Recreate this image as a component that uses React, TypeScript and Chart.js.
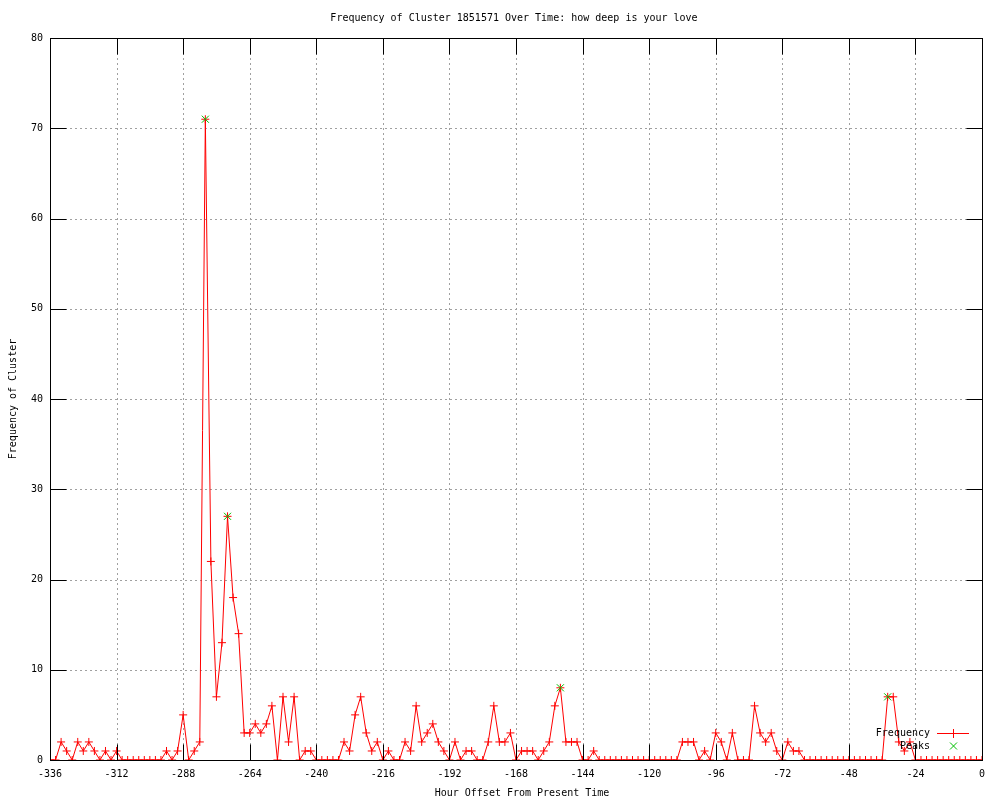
import React, { useEffect, useRef } from "react";
import { Chart, registerables } from "chart.js";

Chart.register(...registerables);

const TITLE = "Frequency of Cluster 1851571 Over Time: how deep is your love";
const X_TITLE = "Hour Offset From Present Time";
const Y_TITLE = "Frequency of Cluster";

const hours = [
  -336, -334, -332, -330, -328, -326, -324, -322, -320, -318,
  -316, -314, -312, -310, -308, -306, -304, -302, -300, -298,
  -296, -294, -292, -290, -288, -286, -284, -282, -280, -278,
  -276, -274, -272, -270, -268, -266, -264, -262, -260, -258,
  -256, -254, -252, -250, -248, -246, -244, -242, -240, -238,
  -236, -234, -232, -230, -228, -226, -224, -222, -220, -218,
  -216, -214, -212, -210, -208, -206, -204, -202, -200, -198,
  -196, -194, -192, -190, -188, -186, -184, -182, -180, -178,
  -176, -174, -172, -170, -168, -166, -164, -162, -160, -158,
  -156, -154, -152, -150, -148, -146, -144, -142, -140, -138,
  -136, -134, -132, -130, -128, -126, -124, -122, -120, -118,
  -116, -114, -112, -110, -108, -106, -104, -102, -100, -98,
  -96, -94, -92, -90, -88, -86, -84, -82, -80, -78,
  -76, -74, -72, -70, -68, -66, -64, -62, -60, -58,
  -56, -54, -52, -50, -48, -46, -44, -42, -40, -38,
  -36, -34, -32, -30, -28, -26, -24, -22, -20, -18,
  -16, -14, -12, -10, -8, -6, -4, -2, 0,
];

const frequency = [
  0, 0, 2, 1, 0, 2, 1, 2, 1, 0,
  1, 0, 1, 0, 0, 0, 0, 0, 0, 0,
  0, 1, 0, 1, 5, 0, 1, 2, 71, 22,
  7, 13, 27, 18, 14, 3, 3, 4, 3, 4,
  6, 0, 7, 2, 7, 0, 1, 1, 0, 0,
  0, 0, 0, 2, 1, 5, 7, 3, 1, 2,
  0, 1, 0, 0, 2, 1, 6, 2, 3, 4,
  2, 1, 0, 2, 0, 1, 1, 0, 0, 2,
  6, 2, 2, 3, 0, 1, 1, 1, 0, 1,
  2, 6, 8, 2, 2, 2, 0, 0, 1, 0,
  0, 0, 0, 0, 0, 0, 0, 0, 0, 0,
  0, 0, 0, 0, 2, 2, 2, 0, 1, 0,
  3, 2, 0, 3, 0, 0, 0, 6, 3, 2,
  3, 1, 0, 2, 1, 1, 0, 0, 0, 0,
  0, 0, 0, 0, 0, 0, 0, 0, 0, 0,
  0, 7, 7, 2, 1, 2, 0, 0, 0, 0,
  0, 0, 0, 0, 0, 0, 0, 0, 0,
];

const peakHours = [-280, -272, -152, -34];
const peakValues = [71, 27, 8, 7];

const X_MIN = -336;
const X_MAX = 0;
const X_STEP = 24;
const Y_MIN = 0;
const Y_MAX = 80;
const Y_STEP = 10;

const RED = "#ff0000";
const GREEN = "#00c000";
const FONT = "10px 'DejaVu Sans Mono', monospace";
const TICK_LEN = 16;

const gnuplotPlugin = {
  id: "gnuplotDecor",
  beforeDraw(chart: any) {
    const ctx = chart.ctx;
    ctx.save();
    ctx.fillStyle = "#ffffff";
    ctx.fillRect(0, 0, chart.width, chart.height);
    ctx.restore();
  },
  beforeDatasetsDraw(chart: any) {
    const { ctx, chartArea: a, scales } = chart;
    const xs = scales.x;
    const ys = scales.y;
    ctx.save();
    ctx.strokeStyle = "#a0a0a0";
    ctx.lineWidth = 1;
    ctx.setLineDash([2, 3]);
    xs.ticks.forEach((t: any) => {
      if (t.value === X_MIN || t.value === X_MAX) return;
      const px = Math.round(xs.getPixelForValue(t.value)) + 0.5;
      ctx.beginPath();
      ctx.moveTo(px, a.top);
      ctx.lineTo(px, a.bottom);
      ctx.stroke();
    });
    ys.ticks.forEach((t: any) => {
      if (t.value === Y_MIN || t.value === Y_MAX) return;
      const py = Math.round(ys.getPixelForValue(t.value)) + 0.5;
      ctx.beginPath();
      ctx.moveTo(a.left, py);
      ctx.lineTo(a.right, py);
      ctx.stroke();
    });
    ctx.restore();
  },
  afterDraw(chart: any) {
    const { ctx, chartArea: a, scales } = chart;
    const xs = scales.x;
    const ys = scales.y;
    ctx.save();
    ctx.strokeStyle = "#000000";
    ctx.lineWidth = 1;
    ctx.setLineDash([]);
    const L = Math.round(a.left) + 0.5;
    const R = Math.round(a.right) + 0.5;
    const T = Math.round(a.top) + 0.5;
    const B = Math.round(a.bottom) + 0.5;
    // inward ticks
    ctx.beginPath();
    xs.ticks.forEach((t: any) => {
      const px = Math.round(xs.getPixelForValue(t.value)) + 0.5;
      ctx.moveTo(px, B);
      ctx.lineTo(px, B - TICK_LEN);
      ctx.moveTo(px, T);
      ctx.lineTo(px, T + TICK_LEN);
    });
    ys.ticks.forEach((t: any) => {
      const py = Math.round(ys.getPixelForValue(t.value)) + 0.5;
      ctx.moveTo(L, py);
      ctx.lineTo(L + TICK_LEN, py);
      ctx.moveTo(R, py);
      ctx.lineTo(R - TICK_LEN, py);
    });
    ctx.stroke();
    // border
    ctx.strokeRect(L, T, R - L, B - T);

    // texts
    ctx.fillStyle = "#000000";
    ctx.font = FONT;
    ctx.textAlign = "center";
    ctx.textBaseline = "middle";
    ctx.fillText(TITLE, 514, 18);
    ctx.fillText(X_TITLE, 522, 793);
    ctx.save();
    ctx.translate(13, 399);
    ctx.rotate(-Math.PI / 2);
    ctx.fillText(Y_TITLE, 0, 0);
    ctx.restore();

    // legend
    ctx.textAlign = "right";
    ctx.fillText("Frequency", 930, 733);
    ctx.fillText("Peaks", 930, 746);
    ctx.strokeStyle = RED;
    ctx.beginPath();
    ctx.moveTo(937, 733.5);
    ctx.lineTo(969, 733.5);
    ctx.moveTo(953.5, 729);
    ctx.lineTo(953.5, 738);
    ctx.stroke();
    ctx.strokeStyle = GREEN;
    ctx.beginPath();
    ctx.moveTo(950, 742.5);
    ctx.lineTo(957, 749.5);
    ctx.moveTo(957, 742.5);
    ctx.lineTo(950, 749.5);
    ctx.stroke();
    ctx.restore();
  },
};

export default function App() {
  const canvasRef = useRef<HTMLCanvasElement | null>(null);

  useEffect(() => {
    document.body.style.margin = "0";
    const canvas = canvasRef.current;
    if (!canvas) return;
    const freqData = hours.map((h, i) => ({ x: h, y: frequency[i] }));
    const peakData = peakHours.map((h, i) => ({ x: h, y: peakValues[i] }));

    const chart = new Chart(canvas, {
      type: "line",
      data: {
        datasets: [
          {
            label: "Frequency",
            data: freqData,
            borderColor: RED,
            backgroundColor: RED,
            borderWidth: 1,
            pointStyle: "cross",
            pointRadius: 4,
            pointBorderColor: RED,
            pointBorderWidth: 1,
            tension: 0,
            fill: false,
            order: 1,
          },
          {
            label: "Peaks",
            data: peakData,
            showLine: false,
            borderColor: GREEN,
            backgroundColor: GREEN,
            pointStyle: "crossRot",
            pointRadius: 5,
            pointBorderColor: GREEN,
            pointBorderWidth: 1,
            order: 0,
          },
        ],
      },
      options: {
        animation: false,
        responsive: false,
        devicePixelRatio: 1,
        events: [],
        layout: { padding: { top: 38, right: 18, left: 0, bottom: 0 } },
        plugins: {
          legend: { display: false },
          title: { display: false },
          tooltip: { enabled: false },
        },
        scales: {
          x: {
            type: "linear",
            min: X_MIN,
            max: X_MAX,
            grid: { display: false, drawTicks: false },
            border: { display: false },
            ticks: {
              stepSize: X_STEP,
              autoSkip: false,
              maxRotation: 0,
              padding: 8,
              color: "#000000",
              font: { family: "'DejaVu Sans Mono', monospace", size: 10 },
            },
            afterFit: (s: any) => {
              s.height = 40;
            },
          },
          y: {
            type: "linear",
            min: Y_MIN,
            max: Y_MAX,
            grid: { display: false, drawTicks: false },
            border: { display: false },
            ticks: {
              stepSize: Y_STEP,
              padding: 7,
              color: "#000000",
              font: { family: "'DejaVu Sans Mono', monospace", size: 10 },
            },
            afterFit: (s: any) => {
              s.width = 50;
            },
          },
        },
      },
      plugins: [gnuplotPlugin],
    } as any);

    return () => {
      chart.destroy();
    };
  }, []);

  return (
    <canvas
      ref={canvasRef}
      width={1000}
      height={800}
      style={{ display: "block", width: "1000px", height: "800px" }}
    />
  );
}
